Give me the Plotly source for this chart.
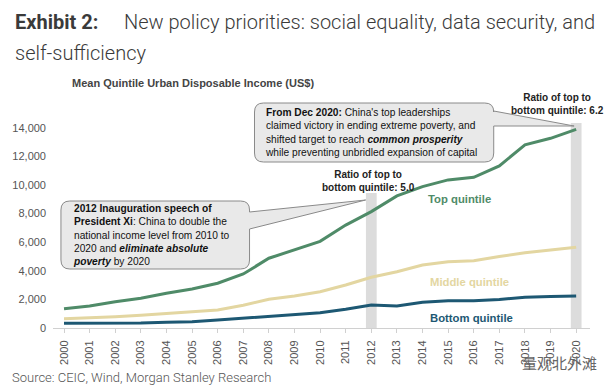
import plotly.graph_objects as go

years = list(range(2000, 2021))
top_quintile = [1350, 1540, 1840, 2080, 2430, 2730, 3130, 3780, 4880, 5460, 6060,
                7200, 8140, 9240, 9890, 10360, 10540, 11340, 12810, 13270, 13900]
middle_quintile = [650, 700, 790, 890, 1030, 1140, 1260, 1590, 2010, 2240, 2540,
                   3010, 3550, 3940, 4410, 4640, 4710, 5000, 5270, 5460, 5650]
bottom_quintile = [330, 330, 320, 350, 400, 440, 560, 680, 840, 910, 1070,
                   1310, 1610, 1540, 1800, 1910, 1910, 2000, 2150, 2200, 2240]
y_ticks = [0, 2000, 4000, 6000, 8000, 10000, 12000, 14000]
highlight_years = [2012, 2020]

W, H = 611, 388
ML, MR, MT, MB = 49, 21, 95, 60
XR = [1999.57, 2020.54]
YR = [0, 16300]
PW = W - ML - MR
PH = H - MT - MB

def dx(px):
    return XR[0] + (px - ML) / PW * (XR[1] - XR[0])

def dy(py):
    return YR[0] + (H - MB - py) / PH * (YR[1] - YR[0])

def px_x(px):
    return (px - ML) / PW

def px_y(py):
    return (H - MB - py) / PH

TOP_C = "#4f8b68"
MID_C = "#e3d6a1"
BOT_C = "#1d5873"
FONT = "Liberation Sans, Arial, sans-serif"
NARROW = "Liberation Sans Narrow, Arial Narrow, Liberation Sans, sans-serif"

fig = go.Figure()
for name, vals, col in [("Top quintile", top_quintile, TOP_C),
                        ("Middle quintile", middle_quintile, MID_C),
                        ("Bottom quintile", bottom_quintile, BOT_C)]:
    fig.add_trace(go.Scatter(x=years, y=vals, mode="lines", name=name,
                             line=dict(color=col, width=3), showlegend=False))

# grey highlight bands
band_tops = {2012: dy(193), 2020: dy(123)}
for yr in highlight_years:
    fig.add_shape(type="rect", xref="x", yref="y", x0=yr - 0.21, x1=yr + 0.21,
                  y0=0, y1=band_tops[yr], fillcolor="#dcdcdc", line=dict(width=0),
                  layer="below")


def callout(x0, y0, x1, y1, r, tail_side_pts):
    (ya, tip, yb) = tail_side_pts
    pts = []
    def P(cmd, *xy):
        s = cmd
        for i in range(0, len(xy), 2):
            s += f" {dx(xy[i]):.5f},{dy(xy[i+1]):.3f}"
        pts.append(s)
    P("M", x0 + r, y0)
    P("L", x1 - r, y0)
    P("Q", x1, y0, x1, y0 + r)
    P("L", x1, ya)
    P("L", tip[0], tip[1])
    P("L", x1, yb)
    P("L", x1, y1 - r)
    P("Q", x1, y1, x1 - r, y1)
    P("L", x0 + r, y1)
    P("Q", x0, y1, x0, y1 - r)
    P("L", x0, y0 + r)
    P("Q", x0, y0, x0 + r, y0)
    pts.append("Z")
    return " ".join(pts)

box_fill = "#e9e9e9"
box_line = dict(color="#8a8a8a", width=1)
fig.add_shape(type="path", xref="x", yref="y",
              path=callout(252, 103, 493, 162, 9, (111, (574, 126), 126)),
              fillcolor=box_fill, line=box_line)
fig.add_shape(type="path", xref="x", yref="y",
              path=callout(57, 201, 247, 269, 9, (212, (364, 200), 229)),
              fillcolor=box_fill, line=box_line)

ann = []
# titles
ann.append(dict(x=px_x(9), y=px_y(22), xref="paper", yref="paper", xanchor="left", yanchor="middle",
                text="<b>Exhibit 2:</b>", showarrow=False,
                font=dict(family="Roboto", size=20, color="#3a3a3a")))
ann.append(dict(x=px_x(119), y=px_y(22), xref="paper", yref="paper", xanchor="left", yanchor="middle",
                text="New policy priorities: social equality, data security, and", showarrow=False,
                font=dict(family="Roboto", size=20, color="#3a3a3a", weight=300)))
ann.append(dict(x=px_x(9), y=px_y(53), xref="paper", yref="paper", xanchor="left", yanchor="middle",
                text="self-sufficiency", showarrow=False,
                font=dict(family="Roboto", size=20, color="#3a3a3a", weight=300)))
ann.append(dict(x=px_x(66), y=px_y(83), xref="paper", yref="paper", xanchor="left", yanchor="middle",
                text="<b>Mean Quintile Urban Disposable Income (US$)</b>", showarrow=False,
                font=dict(family=NARROW, size=11, color="#444444")))
ann.append(dict(x=px_x(6), y=px_y(377), xref="paper", yref="paper", xanchor="left", yanchor="middle",
                text="Source: CEIC, Wind, Morgan Stanley Research", showarrow=False,
                font=dict(family="Roboto", size=13, color="#555555", weight=300)))
ann.append(dict(x=px_x(599), y=px_y(362), xref="paper", yref="paper", xanchor="right", yanchor="middle",
                text="量观北外滩", showarrow=False,
                font=dict(family="Noto Sans CJK SC", size=15, color="#666666")))

# callout texts
ann.append(dict(x=dx(261), y=dy(132), xref="x", yref="y", xanchor="left", yanchor="middle", align="left",
                text="<b>From Dec 2020:</b> China's top leaderships<br>claimed victory in ending extreme poverty, and"
                     "<br>shifted target to reach <b><i>common prosperity</i></b><br>while preventing unbridled expansion of capital",
                showarrow=False, font=dict(family=FONT, size=10.2, color="#111111")))
ann.append(dict(x=dx(67), y=dy(235), xref="x", yref="y", xanchor="left", yanchor="middle", align="left",
                text="<b>2012 Inauguration speech of</b><br><b>President Xi</b>: China to double the"
                     "<br>national income level from 2010 to<br>2020 and <b><i>eliminate absolute</i></b>"
                     "<br><b><i>poverty</i></b> by 2020",
                showarrow=False, font=dict(family=FONT, size=10.2, color="#111111")))

# ratio labels
ann.append(dict(x=dx(367), y=dy(181), xref="x", yref="y", xanchor="center", yanchor="middle",
                text="<b>Ratio of top to<br>bottom quintile: 5.0</b>", showarrow=False,
                font=dict(family=FONT, size=10, color="#222222")))
ann.append(dict(x=dx(557), y=dy(104), xref="x", yref="y", xanchor="center", yanchor="middle",
                text="<b>Ratio of top to<br>bottom quintile: 6.2</b>", showarrow=False,
                font=dict(family=FONT, size=10, color="#222222")))

# series labels
ann.append(dict(x=dx(459), y=dy(199), xref="x", yref="y", text="<b>Top quintile</b>", showarrow=False,
                font=dict(family=FONT, size=11.3, color=TOP_C)))
ann.append(dict(x=dx(469), y=dy(282), xref="x", yref="y", text="<b>Middle quintile</b>", showarrow=False,
                font=dict(family=FONT, size=11.3, color=MID_C)))
ann.append(dict(x=dx(471), y=dy(318), xref="x", yref="y", text="<b>Bottom quintile</b>", showarrow=False,
                font=dict(family=FONT, size=11.3, color=BOT_C)))

fig.update_layout(
    width=W, height=H,
    margin=dict(l=ML, r=MR, t=MT, b=MB),
    paper_bgcolor="white", plot_bgcolor="white",
    annotations=ann,
    xaxis=dict(range=XR, tickmode="array", tickvals=years, ticktext=[str(y) for y in years],
               tickangle=-90, showgrid=False, zeroline=False, showline=True,
               linecolor="#d0d0d0", linewidth=1, ticks="outside", ticklen=4, tickcolor="#d0d0d0",
               ticklabelstandoff=3,
               tickfont=dict(family=FONT, size=11, color="#555555")),
    yaxis=dict(range=YR, tickmode="array", tickvals=y_ticks,
               ticktext=[f"{v:,}" for v in y_ticks], showgrid=False, zeroline=False,
               showline=False, ticks="", ticklabelstandoff=6,
               tickfont=dict(family=FONT, size=11, color="#555555")),
)

fig.write_html("out.html", config={"displayModeBar": False},
               post_script="document.body.style.margin='0';document.body.style.overflow='hidden';")
